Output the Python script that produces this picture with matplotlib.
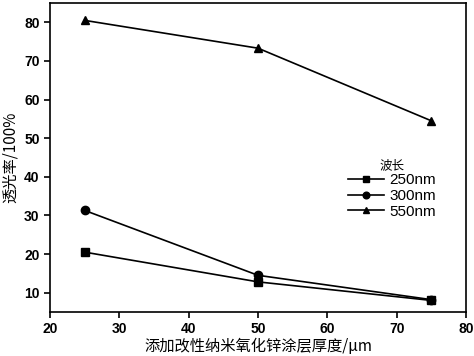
import matplotlib
matplotlib.use("Agg")
import matplotlib.pyplot as plt

plt.rcParams['font.family'] = ['Liberation Sans', 'Noto Sans CJK SC', 'DejaVu Sans']

thickness = [25, 50, 75]
series_names = ['250nm', '300nm', '550nm']
t250 = [20.5, 12.8, 8.0]
t300 = [31.3, 14.5, 8.2]
t550 = [80.5, 73.3, 54.5]
markers = ['s', 'o', '^']

fig = plt.figure(figsize=(4.74, 3.56), dpi=100)
ax = fig.add_axes([50/474, 1-312/356, 416/474, 309/356])

for vals, name, m in zip([t250, t300, t550], series_names, markers):
    ax.plot(thickness, vals, color='black', marker=m, markersize=6, linewidth=1.2, label=name)

ax.set_xlim(20, 80)
ax.set_ylim(5, 85)
ax.set_xticks([20, 30, 40, 50, 60, 70, 80])
ax.set_yticks([10, 20, 30, 40, 50, 60, 70, 80])
for lab in ax.get_xticklabels() + ax.get_yticklabels():
    lab.set_fontweight('bold')
    lab.set_fontsize(10)
ax.tick_params(direction='out', length=4, width=1.2, top=False, right=False)
for s in ax.spines.values():
    s.set_linewidth(1.2)

ax.set_xlabel('添加改性纳米氧化锌涂层厚度/μm', fontsize=11, family=['Noto Sans CJK SC', 'DejaVu Sans'], labelpad=1)
ax.set_ylabel('透光率/100%', fontsize=11, family=['Noto Sans CJK SC', 'DejaVu Sans'], labelpad=4)

leg = ax.legend(title='波长', loc='upper left', bbox_to_anchor=(0.69, 0.53), frameon=False,
                fontsize=11, handlelength=2.4, handletextpad=0.3, labelspacing=0.1, borderpad=0.2,
                markerscale=0.8)
leg.get_title().set_fontsize(9)
leg.get_title().set_family(['Noto Sans CJK SC', 'DejaVu Sans'])

fig.savefig('out.png', dpi=100)
